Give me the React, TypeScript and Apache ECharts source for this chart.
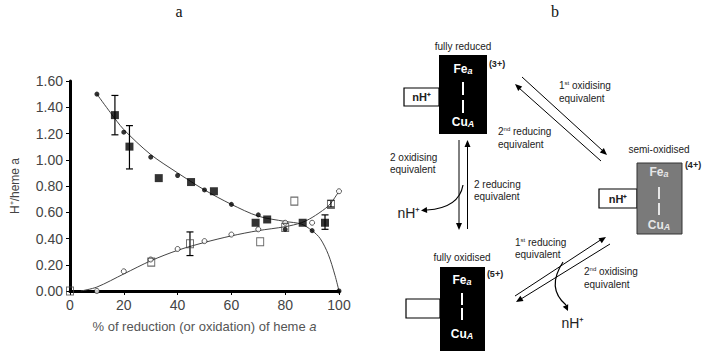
import React, { useEffect, useRef } from "react";
import * as echarts from "echarts";

// ---------- chart (a) data ----------
const xTickStep = 20;
const yTickStep = 0.2;
const xMax = 100;
const yMax = 1.6;

// small filled circles (decreasing)
const fcX = [10, 20, 30, 40, 50, 60, 70, 80, 90, 100];
const fcY = [1.5, 1.21, 1.02, 0.88, 0.77, 0.66, 0.58, 0.47, 0.46, 0.0];
// small open circles (increasing)
const ocX = [10, 20, 30, 40, 50, 60, 70, 80, 90, 100];
const ocY = [0.0, 0.15, 0.24, 0.32, 0.38, 0.43, 0.47, 0.52, 0.52, 0.76];
// large filled squares
const fsX = [16.7, 22.1, 33, 45, 53.5, 69, 73.3, 86.5, 94.8];
const fsY = [1.34, 1.1, 0.86, 0.83, 0.76, 0.52, 0.545, 0.52, 0.52];
// large open squares
const osX = [0, 30.2, 44.6, 70.7, 80, 83.4, 97];
const osY = [0, 0.22, 0.36, 0.375, 0.485, 0.685, 0.66];
// error bars
const fsErrX = [16.7, 22.1, 94.8];
const fsErrLo = [1.19, 0.93, 0.47];
const fsErrHi = [1.49, 1.26, 0.58];
const osErrX = [44.6, 97];
const osErrLo = [0.27, 0.64];
const osErrHi = [0.45, 0.69];
// fitted curves
const decFitX = [10, 15, 20, 30, 40, 50, 60, 70, 80, 86, 90, 93, 96, 98.5, 100];
const decFitY = [1.5, 1.36, 1.23, 1.04, 0.9, 0.77, 0.66, 0.57, 0.53, 0.51, 0.46, 0.4, 0.28, 0.12, 0.0];
const incFitX = [4, 10, 20, 30, 40, 50, 60, 70, 80, 86, 90, 95, 97, 100];
const incFitY = [0, 0.03, 0.13, 0.23, 0.31, 0.37, 0.42, 0.46, 0.49, 0.52, 0.56, 0.63, 0.67, 0.76];

const zip = (xs: number[], ys: number[]) => xs.map((x, i) => [x, ys[i]]);
const zip3 = (xs: number[], a: number[], b: number[]) => xs.map((x, i) => [x, a[i], b[i]]);

const FF = "Liberation Sans, Arial, sans-serif";
const SERIF = "Liberation Serif, Times New Roman, serif";

function arrowHead(tx: number, ty: number, fx: number, fy: number, len = 7, half = 3) {
  const dx = tx - fx;
  const dy = ty - fy;
  const l = Math.sqrt(dx * dx + dy * dy) || 1;
  const ux = dx / l;
  const uy = dy / l;
  const bx = tx - ux * len;
  const by = ty - uy * len;
  return {
    type: "polygon",
    shape: {
      points: [
        [tx, ty],
        [bx - uy * half, by + ux * half],
        [bx + uy * half, by - ux * half],
      ],
    },
    style: { fill: "#000" },
  };
}

function txt(x: number, y: number, text: string, o: any = {}) {
  return {
    type: "text",
    x,
    y,
    z: 10,
    style: {
      text,
      fill: o.fill || "#222",
      fontSize: o.size || 10,
      fontFamily: FF,
      fontWeight: o.weight || "normal",
      align: o.align || "left",
      verticalAlign: "middle",
      textAlign: o.align || "left",
      textVerticalAlign: "middle",
      rich: o.rich,
    },
  };
}

function ln(x1: number, y1: number, x2: number, y2: number, w = 1, c = "#000") {
  return { type: "line", shape: { x1, y1, x2, y2 }, style: { stroke: c, lineWidth: w } };
}

function rect(x: number, y: number, w: number, h: number, fill: string, stroke = "#000", lw = 1.2) {
  return { type: "rect", shape: { x, y, width: w, height: h }, style: { fill, stroke, lineWidth: lw } };
}

const supRich = { s: { fontSize: 6, verticalAlign: "top", fontFamily: FF, fill: "#222" } };

function boxTexts(cx: number, yFe: number, yBar1: number, yBar2: number, yCu: number, color: string) {
  const rich = {
    s: { fontSize: 9, fontStyle: "italic", fontWeight: "bold", verticalAlign: "bottom", fill: color, fontFamily: FF },
  };
  return [
    txt(cx, yFe, "Fe{s|a}", { fill: color, size: 12, weight: "bold", align: "center", rich }),
    ln(cx, yBar1[0], cx, yBar1[1], 2, color),
    ln(cx, yBar2[0], cx, yBar2[1], 2, color),
    txt(cx, yCu, "Cu{s|A}", { fill: color, size: 12, weight: "bold", align: "center", rich }),
  ];
}

function buildGraphic() {
  const els: any[] = [];
  // titles
  els.push({ type: "text", x: 179, y: 11, style: { text: "a", fontSize: 16, fontFamily: SERIF, fill: "#111", align: "center", verticalAlign: "middle" } });
  els.push({ type: "text", x: 555, y: 11, style: { text: "b", fontSize: 16, fontFamily: SERIF, fill: "#111", align: "center", verticalAlign: "middle" } });

  // fully reduced
  els.push(txt(463, 46, "fully reduced", { align: "center" }));
  els.push(rect(404, 88, 35, 18, "#fff"));
  els.push(txt(421.5, 97, "nH⁺", { weight: "bold", size: 11, align: "center" }));
  els.push(rect(439, 55, 48, 79, "#000", "#000", 0));
  els.push(...(boxTexts(463, 69, [82, 95] as any, [100, 113] as any, 122, "#fff") as any));
  els.push(txt(497, 64, "(3+)", { weight: "bold", size: 9, align: "center" }));

  // semi-oxidised
  els.push(txt(659, 149, "semi-oxidised", { align: "center" }));
  els.push(rect(599, 189, 38, 19, "#fff"));
  els.push(txt(618, 198.5, "nH⁺", { weight: "bold", size: 11, align: "center" }));
  els.push(rect(637, 163, 45, 71, "#7a7a7a", "#333", 1));
  els.push(...(boxTexts(659, 172, [187, 199] as any, [203, 215] as any, 225, "#e6e6e6") as any));
  els.push(txt(693, 165, "(4+)", { weight: "bold", size: 9, align: "center" }));

  // fully oxidised
  els.push(txt(462, 257, "fully oxidised", { align: "center" }));
  els.push(rect(406, 299, 34, 19, "#fff"));
  els.push(rect(440, 267, 45, 84, "#000", "#000", 0));
  els.push(...(boxTexts(462, 280, [293, 305] as any, [308, 320] as any, 334, "#fff") as any));
  els.push(txt(495, 274, "(5+)", { weight: "bold", size: 9, align: "center" }));

  // top diagonal arrows
  els.push(ln(522, 77, 603, 151));
  els.push(arrowHead(607, 155, 522, 77));
  els.push(ln(519, 88, 601, 161));
  els.push(arrowHead(515, 84, 601, 161));
  els.push(txt(559, 85, "1{s|st} oxidising", { rich: supRich }));
  els.push(txt(559, 98, "equivalent"));
  els.push(txt(498, 131, "2{s|nd} reducing", { rich: supRich }));
  els.push(txt(498, 144, "equivalent"));

  // vertical arrows
  els.push(ln(459, 140, 459, 224));
  els.push(arrowHead(459, 230, 459, 140));
  els.push(ln(467.5, 146, 467.5, 229));
  els.push(arrowHead(467.5, 140, 467.5, 229));
  els.push(txt(390, 157, "2 oxidising"));
  els.push(txt(390, 169, "equivalent"));
  els.push(txt(474, 184, "2 reducing"));
  els.push(txt(474, 196, "equivalent"));
  els.push({ type: "bezierCurve", shape: { x1: 463, y1: 185, cpx1: 459, cpy1: 208, x2: 427, y2: 210 }, style: { stroke: "#000", lineWidth: 1.2, fill: "none" } });
  els.push(arrowHead(421, 210.5, 459, 208, 6, 3));
  els.push(txt(409, 213, "nH⁺", { size: 14, align: "center" }));

  // bottom diagonal arrows
  els.push(ln(515, 296, 602, 239));
  els.push(arrowHead(606, 237, 515, 296));
  els.push(ln(521, 299, 610, 244));
  els.push(arrowHead(516, 302, 610, 244));
  els.push(txt(515, 242, "1{s|st} reducing", { rich: supRich }));
  els.push(txt(515, 254, "equivalent"));
  els.push(txt(584, 271, "2{s|nd} oxidising", { rich: supRich }));
  els.push(txt(584, 284, "equivalent"));
  els.push({ type: "bezierCurve", shape: { x1: 563, y1: 262, cpx1: 546, cpy1: 288, x2: 566, y2: 305 }, style: { stroke: "#000", lineWidth: 1.2, fill: "none" } });
  els.push(arrowHead(568, 311, 562, 298, 6, 3));
  els.push(txt(573, 323, "nH⁺", { size: 14, align: "center" }));
  return els;
}

function errRender(params: any, api: any) {
  const x = api.value(0);
  const p1 = api.coord([x, api.value(1)]);
  const p2 = api.coord([x, api.value(2)]);
  const c = 3.5;
  const st = { stroke: "#000", lineWidth: 1.2 };
  return {
    type: "group",
    children: [
      { type: "line", shape: { x1: p1[0], y1: p1[1], x2: p2[0], y2: p2[1] }, style: st },
      { type: "line", shape: { x1: p1[0] - c, y1: p1[1], x2: p1[0] + c, y2: p1[1] }, style: st },
      { type: "line", shape: { x1: p2[0] - c, y1: p2[1], x2: p2[0] + c, y2: p2[1] }, style: st },
    ],
  };
}

export default function App() {
  const ref = useRef<HTMLDivElement>(null);
  useEffect(() => {
    if (!ref.current) return;
    const chart = echarts.init(ref.current, null, { renderer: "svg" });
    chart.setOption({
      animation: false,
      backgroundColor: "#fff",
      grid: { left: 70, top: 81, width: 269, height: 210, containLabel: false },
      xAxis: {
        type: "value",
        min: 0,
        max: xMax,
        interval: xTickStep,
        name: "% of reduction (or oxidation) of heme {i|a}",
        nameLocation: "middle",
        nameGap: 29,
        nameTextStyle: {
          fontFamily: FF,
          fontSize: 13,
          color: "#555",
          rich: { i: { fontFamily: FF, fontSize: 13, fontStyle: "italic", color: "#555" } },
        },
        axisLine: { lineStyle: { color: "#000", width: 3 } },
        axisTick: { show: true, length: 4, lineStyle: { color: "#000", width: 1 } },
        axisLabel: { fontFamily: FF, fontSize: 14, color: "#444", margin: 7 },
        splitLine: { show: false },
      },
      yAxis: {
        type: "value",
        min: 0,
        max: yMax,
        interval: yTickStep,
        name: "H⁺/heme a",
        nameLocation: "middle",
        nameGap: 49,
        nameTextStyle: { fontFamily: FF, fontSize: 12, color: "#444" },
        axisLine: { show: true, lineStyle: { color: "#000", width: 3 } },
        axisTick: { show: true, length: 4, lineStyle: { color: "#000", width: 1 } },
        axisLabel: { fontFamily: FF, fontSize: 14, color: "#444", margin: 7, formatter: (v: number) => v.toFixed(2) },
        splitLine: { show: false },
      },
      graphic: buildGraphic(),
      series: [
        { type: "line", data: zip(decFitX, decFitY), smooth: 0.3, symbol: "none", lineStyle: { color: "#444", width: 1 }, z: 1 },
        { type: "line", data: zip(incFitX, incFitY), smooth: 0.3, symbol: "none", lineStyle: { color: "#444", width: 1 }, z: 1 },
        { type: "custom", renderItem: errRender, data: zip3(fsErrX, fsErrLo, fsErrHi), encode: { x: 0, y: [1, 2] }, z: 2 },
        { type: "custom", renderItem: errRender, data: zip3(osErrX, osErrLo, osErrHi), encode: { x: 0, y: [1, 2] }, z: 2 },
        { type: "scatter", data: zip(ocX, ocY), symbol: "circle", symbolSize: 5, itemStyle: { color: "#fff", borderColor: "#000", borderWidth: 0.8 }, z: 3 },
        { type: "scatter", data: zip(osX, osY), symbol: "rect", symbolSize: [7, 8], itemStyle: { color: "rgba(255,255,255,0)", borderColor: "#444", borderWidth: 1 }, z: 4 },
        { type: "scatter", data: zip(fcX, fcY), symbol: "circle", symbolSize: 5, itemStyle: { color: "#000" }, z: 5 },
        { type: "scatter", data: zip(fsX, fsY), symbol: "rect", symbolSize: 8, itemStyle: { color: "#000" }, z: 6 },
      ],
    });
    return () => chart.dispose();
  }, []);
  return <div ref={ref} style={{ position: "absolute", left: 0, top: 0, width: 709, height: 354 }} />;
}
